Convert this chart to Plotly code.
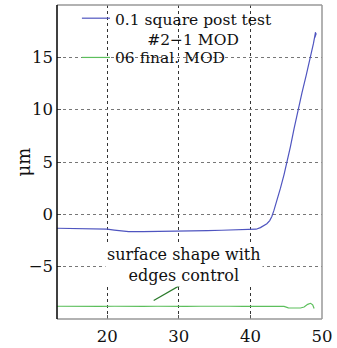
import plotly.graph_objects as go

# Blue series: "0.1 square post test #2-1 MOD"
blue_x = [13, 15, 17, 19, 20, 21, 22, 23, 25, 27, 30, 32, 34, 36, 38, 40, 40.8, 41.4, 41.9, 42.3, 42.7,
          43.0, 43.3, 43.7, 44.2, 44.7, 45.1, 45.6, 46.1, 46.6, 47.2, 47.8, 48.4, 48.8, 49.1, 49.0, 49.2]
blue_y = [-1.33, -1.34, -1.35, -1.38, -1.42, -1.5, -1.6, -1.66, -1.66, -1.64, -1.66, -1.6, -1.55, -1.52, -1.48,
          -1.46, -1.42, -1.27, -1.1, -0.9, -0.6,
          -0.2, 0.4, 1.3, 2.5, 3.8, 4.95, 6.5, 8.2, 9.9, 11.6, 13.3, 15.0, 16.3, 17.4, 16.9, 17.3]

# Green series: "06 final. MOD"
green_x = [13, 15, 17, 19, 21, 23, 25, 27, 29, 31, 33, 35, 37, 39, 41, 43, 44.7, 45.3, 46.2, 47.0,
           47.5, 48.0, 48.4, 48.7, 48.9]
green_y = [-8.78, -8.8, -8.78, -8.8, -8.78, -8.82, -8.8, -8.78, -8.82, -8.8, -8.78, -8.76, -8.78, -8.8,
           -8.8, -8.8, -8.8, -8.93, -8.95, -8.95, -8.85, -8.6, -8.5, -8.65, -9.0]

series_names = ["0.1 square post test<br>#2\u22121 MOD", "06 final. MOD"]
series_colors = ["#4f55c0", "#5cbf5c"]
x_ticks = [20, 30, 40, 50]
y_ticks = [-5, 0, 5, 10, 15]
y_title = "\u03bcm"
note_text = "surface shape with<br>edges control"

FONT = "DejaVu Serif"

fig = go.Figure()
fig.add_trace(go.Scatter(x=blue_x, y=blue_y, mode="lines", name=series_names[0],
                         line=dict(color=series_colors[0], width=1.2), showlegend=False))
fig.add_trace(go.Scatter(x=green_x, y=green_y, mode="lines", name=series_names[1],
                         line=dict(color=series_colors[1], width=1.2), showlegend=False))

# legend drawn as annotations + sample lines (paper coords)
legend_y_text = [0.921, 0.831]
legend_y_line = [0.958, 0.833]
for name, color, yt, yl in zip(series_names, series_colors, legend_y_text, legend_y_line):
    fig.add_shape(type="line", xref="paper", yref="paper", x0=0.094, x1=0.2, y0=yl, y1=yl,
                  line=dict(color=color, width=1.2))
    fig.add_annotation(x=0.213, y=yt, xref="paper", yref="paper", xanchor="left", yanchor="middle",
                       text=name, showarrow=False, align="center",
                       font=dict(family=FONT, size=15.5, color="#111"))

fig.add_annotation(x=30.7, y=-4.85, xref="x", yref="y", text=note_text, showarrow=False,
                   font=dict(family=FONT, size=16, color="#111"), bgcolor="white",
                   align="center")
fig.add_shape(type="line", xref="x", yref="y", x0=26.5, y0=-8.23, x1=30.9, y1=-6.5,
              line=dict(color="#2a7a2a", width=1.2))

# y-axis title
fig.add_annotation(x=-0.13, y=0.5, xref="paper", yref="paper", text=y_title, textangle=-90,
                   showarrow=False, xanchor="center", yanchor="middle",
                   font=dict(family=FONT, size=18, color="#111"))

# frame: grey top/right/bottom, black left
fig.add_shape(type="line", xref="paper", yref="paper", x0=0, y0=1, x1=1, y1=1,
              line=dict(color="#999", width=1.5))
fig.add_shape(type="line", xref="paper", yref="paper", x0=1, y0=0, x1=1, y1=1,
              line=dict(color="#999", width=1.5))
fig.add_shape(type="line", xref="paper", yref="paper", x0=0, y0=0, x1=1, y1=0,
              line=dict(color="#999", width=1.5))
fig.add_shape(type="line", xref="paper", yref="paper", x0=0, y0=0, x1=0, y1=1,
              line=dict(color="black", width=1.5))

fig.update_layout(
    width=337, height=348,
    margin=dict(l=57, r=15, t=5, b=29, autoexpand=False),
    paper_bgcolor="white", plot_bgcolor="white",
    font=dict(family=FONT, size=16, color="#111"),
    showlegend=False,
    xaxis=dict(range=[13, 50], tickvals=x_ticks, showgrid=True, gridcolor="#333",
               griddash="dot", gridwidth=1, ticks="inside", ticklen=4, tickcolor="#555",
               showline=False, zeroline=False, tickfont=dict(family=FONT, size=16.5),
               ticklabelstandoff=5, automargin=False),
    yaxis=dict(range=[-10, 20], tickvals=y_ticks, showgrid=True, gridcolor="#777",
               griddash="dot", gridwidth=1, ticks="inside", ticklen=4, tickcolor="#555",
               showline=False, zeroline=False, tickfont=dict(family=FONT, size=16.5),
               ticklabelstandoff=3, automargin=False),
)

fig.write_html("out.html")
